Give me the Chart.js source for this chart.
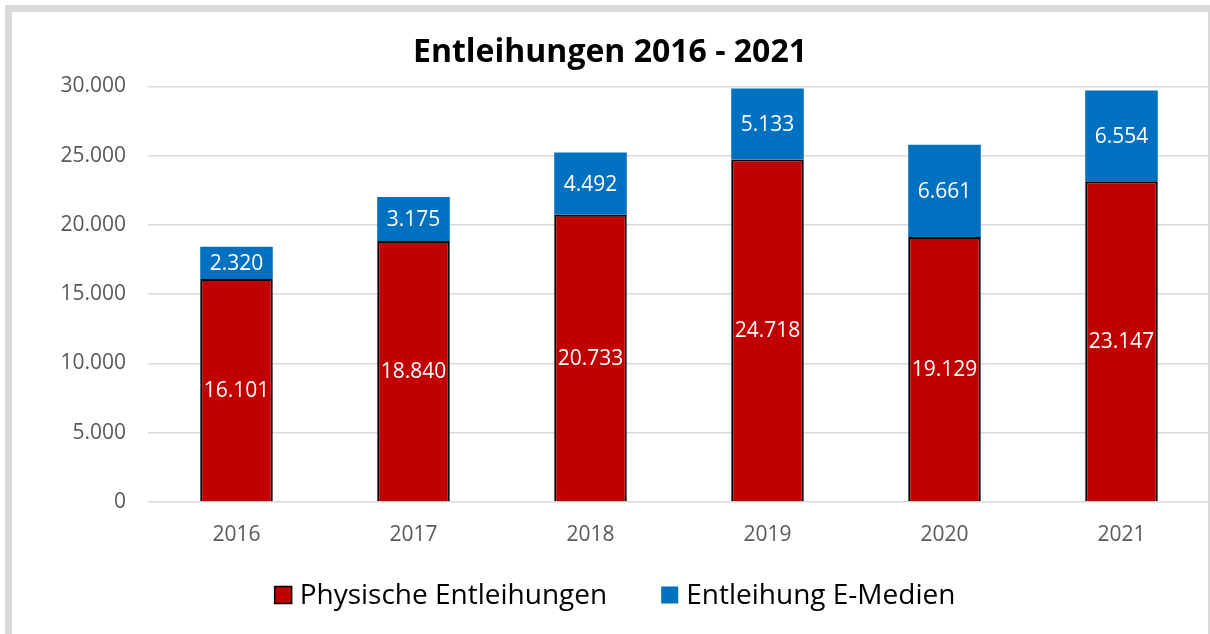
<!DOCTYPE html>
<html><head><meta charset="utf-8">
<script src="https://cdn.jsdelivr.net/npm/chart.js@4"></script>
<style>
html,body{margin:0;padding:0;width:1210px;height:634px;overflow:hidden;background:#fff;}
#wrap{position:absolute;left:0;top:0;width:1210px;height:634px;}
#frame{position:absolute;left:5px;top:5px;width:1196px;height:640px;border:7px solid #d9d9d9;pointer-events:none;z-index:2;}
</style></head>
<body>
<div id="wrap"><canvas id="c" width="1210" height="634"></canvas></div>
<div id="frame"></div>
<script>
const categories = ['2016','2017','2018','2019','2020','2021'];
const physisch = [16101, 18840, 20733, 24718, 19129, 23147];
const eMedien = [2320, 3175, 4492, 5133, 6661, 6554];
const seriesNames = ['Physische Entleihungen','Entleihung E-Medien'];
const titleText = 'Entleihungen 2016 - 2021';

const FONT = "'Open Sans', Lato, 'Liberation Sans', sans-serif";
const fmt = v => v.toLocaleString('de-DE');

const labelPlugin = {
  id:'barLabels',
  afterDatasetsDraw(chart){
    const ctx = chart.ctx;
    ctx.save();
    ctx.fillStyle = '#ffffff';
    ctx.font = '21px ' + FONT;
    ctx.textAlign = 'center';
    ctx.textBaseline = 'middle';
    chart.data.datasets.forEach((ds, di) => {
      const meta = chart.getDatasetMeta(di);
      meta.data.forEach((bar, i) => {
        const y = (bar.y + bar.base) / 2;
        ctx.fillText(fmt(ds.data[i]), bar.x, y + 1);
      });
    });
    ctx.restore();
  }
};

const legendPlugin = {
  id:'customLegend',
  afterDraw(chart){
    const ctx = chart.ctx;
    ctx.save();
    ctx.font = '28px ' + FONT;
    ctx.textBaseline = 'middle';
    const box = 17, gapText = 8, gapItem = 54;
    const items = chart.data.datasets.map((ds,i)=>({ds, w: box + gapText + ctx.measureText(ds.label).width}));
    const total = items.reduce((a,b)=>a+b.w,0) + gapItem*(items.length-1);
    let x = 615 - total/2;
    const y = 595;
    items.forEach((it,i)=>{
      ctx.fillStyle = it.ds.backgroundColor;
      ctx.fillRect(x, y - box/2, box, box);
      if (i===0){ ctx.strokeStyle='#000'; ctx.lineWidth=1.5; ctx.strokeRect(x, y - box/2, box, box); }
      ctx.fillStyle = '#000';
      ctx.fillText(it.ds.label, x + box + gapText, y + 1);
      x += it.w + gapItem;
    });
    ctx.restore();
  }
};

new Chart(document.getElementById('c'), {
  type:'bar',
  data:{
    labels: categories,
    datasets:[
      {label: seriesNames[0], data: physisch, backgroundColor:'#C00000', borderColor:'#000000',
       borderWidth:{top:2,left:2,right:2,bottom:0}, borderSkipped:false,
       barPercentage:0.41, categoryPercentage:1},
      {label: seriesNames[1], data: eMedien, backgroundColor:'#0070C0', borderWidth:0,
       barPercentage:0.41, categoryPercentage:1}
    ]
  },
  options:{
    responsive:false, animation:false,
    layout:{padding:{left:10,right:0,top:34,bottom:74}},
    plugins:{
      title:{display:true, text:titleText, color:'#000', font:{family:FONT, size:32, weight:'bold'}, padding:{top:0,bottom:14}},
      legend:{display:false},
      tooltip:{enabled:false}
    },
    scales:{
      x:{stacked:true, grid:{display:false}, border:{display:false},
         ticks:{color:'#595959', font:{family:FONT, size:21}, padding:12},
         afterFit(s){ s.height = 58; }},
      y:{stacked:true, min:0, max:30000, ticks:{stepSize:5000, color:'#595959', font:{family:FONT, size:21}, padding:22, callback:v=>fmt(v)},
         grid:{color:'#d9d9d9', lineWidth:1.5, drawTicks:false}, border:{display:false},
         afterFit(s){ s.width = 138; }}
    }
  },
  plugins:[labelPlugin, legendPlugin]
});
</script>
</body></html>
